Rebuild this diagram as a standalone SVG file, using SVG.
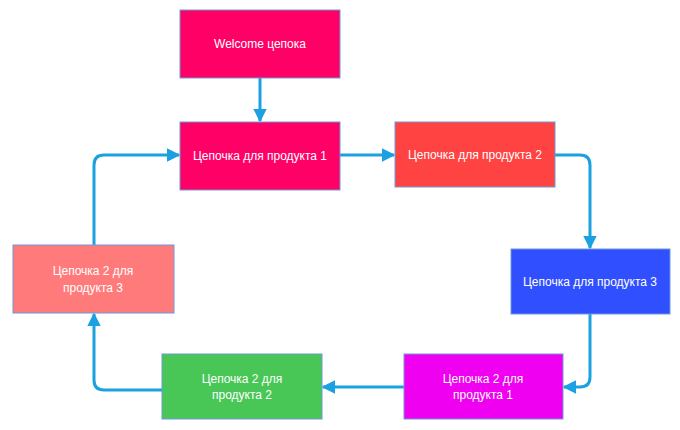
<svg xmlns="http://www.w3.org/2000/svg" width="680" height="430" viewBox="0 0 680 430">
<style>
.n{stroke:#6c9ad8;stroke-width:1}
.t{font-family:"Liberation Sans",Arial,sans-serif;font-size:12px;fill:#fff;text-anchor:middle;dominant-baseline:central}
.c{fill:none;stroke:#1ba1e2;stroke-width:3;stroke-linejoin:round}
</style>
<defs>
<marker id="a" viewBox="0 0 10 10" refX="9" refY="5" markerWidth="4.5" markerHeight="4.5" markerUnits="strokeWidth" orient="auto">
<path d="M0,0 L10,5 L0,10 z" fill="#1ba1e2"/>
</marker>
</defs>
<rect width="680" height="430" fill="#fff"/>
<g id="connectors">
<path class="c" d="M260,78 V121" marker-end="url(#a)"/>
<path class="c" d="M340,155 H394" marker-end="url(#a)"/>
<path class="c" d="M555,155 H580 Q590,155 590,165 V248" marker-end="url(#a)"/>
<path class="c" d="M590,314 V377 Q590,387 580,387 H564" marker-end="url(#a)"/>
<path class="c" d="M404,387 H323" marker-end="url(#a)"/>
<path class="c" d="M162,390 H104 Q94,390 94,380 V314" marker-end="url(#a)"/>
<path class="c" d="M94,245 V165 Q94,155 104,155 H179" marker-end="url(#a)"/>
</g>
<g id="welcome"><rect class="n" x="180" y="10" width="160" height="68" fill="#ff0066"/><text class="t" x="260" y="44">Welcome цепока</text></g>
<g id="p1"><rect class="n" x="180" y="122" width="160" height="68" fill="#ff0066"/><text class="t" x="260" y="156">Цепочка для продукта 1</text></g>
<g id="p2"><rect class="n" x="395" y="122" width="160" height="65" fill="#ff4343"/><text class="t" x="475" y="155">Цепочка для продукта 2</text></g>
<g id="p3"><rect class="n" x="511" y="249" width="159" height="65" fill="#304ffe"/><text class="t" x="590" y="282">Цепочка для продукта 3</text></g>
<g id="p1b"><rect class="n" x="404" y="354" width="159" height="65" fill="#f000f0"/><text class="t" x="483" y="379">Цепочка 2 для</text><text class="t" x="483" y="395">продукта 1</text></g>
<g id="p2b"><rect class="n" x="162" y="354" width="160" height="65" fill="#48c757"/><text class="t" x="242" y="379">Цепочка 2 для</text><text class="t" x="242" y="395">продукта 2</text></g>
<g id="p3b"><rect class="n" x="13" y="245" width="161" height="68" fill="#ff7b7b"/><text class="t" x="93" y="271">Цепочка 2 для</text><text class="t" x="93" y="288">продукта 3</text></g>
</svg>
